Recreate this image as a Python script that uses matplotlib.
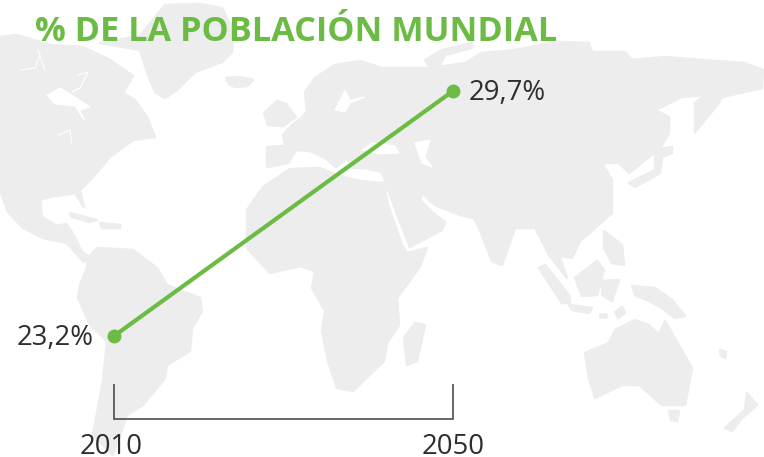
import matplotlib
matplotlib.use("Agg")
import matplotlib.pyplot as plt
from matplotlib.patches import Polygon

W, H = 764, 457
GREEN = "#6cbb45"
LAND = "#ededed"
DARK = "#2e2e2e"

# Chart data
years = [2010, 2050]
shares = [23.2, 29.7]
share_labels = ["23,2%", "29,7%"]
year_labels = ["2010", "2050"]
title = "% DE LA POBLACIÓN MUNDIAL"

# Background map outlines (decoration, in image pixels)
north_america = [(0,37),(17,35),(50,45),(83,47),(110,60),(133,76),(123,93),(135,100),(147,117),(155,137),(133,140),(110,157),(93,177),(80,190),(84,207),(75,193),(50,197),(40,200),(42,217),(57,226),(66,224),(72,232),(76,240),(82,252),(88,256),(84,262),(67,243),(43,238),(23,228),(8,212),(0,190)]
greenland = [(100,43),(140,36),(165,5),(200,4),(222,8),(233,30),(232,52),(222,62),(195,72),(177,90),(165,98),(155,92),(148,75),(140,50)]
iceland = [(226,78),(240,77),(253,80),(247,86),(235,87),(229,84)]
britain = [(264,113),(277,101),(286,104),(296,117),(283,126),(268,125)]
eurasia = [(267,147),(285,146),(283,135),(292,125),(300,119),(307,112),(305,92),(315,78),(335,65),(360,61),(382,68),(425,68),(445,66),(465,63),(482,53),(515,50),(555,42),(589,43),(592,52),(625,52),(632,60),(665,57),(702,60),(745,63),(763,70),(762,88),(722,97),(719,103),(695,132),(695,103),(705,95),(682,97),(655,110),(669,117),(669,133),(659,150),(649,157),(629,173),(619,163),(602,163),(612,180),(612,213),(602,222),(580,241),(572,258),(562,256),(556,246),(567,278),(549,255),(539,235),(535,228),(515,228),(502,265),(492,261),(479,228),(474,218),(460,215),(435,205),(422,193),(420,200),(432,212),(445,222),(442,230),(410,247),(400,222),(392,200),(386,184),(382,172),(365,168),(353,168),(347,158),(336,167),(325,158),(310,151),(296,150),(288,163),(267,167)]
novaya = [(425,60),(442,50),(472,43),(472,48),(445,55),(440,65),(428,65)]
africa = [(247,210),(263,187),(290,169),(320,168),(340,176),(360,181),(384,183),(388,205),(402,245),(407,253),(427,248),(419,268),(397,298),(399,325),(387,343),(384,361),(353,391),(337,388),(328,361),(322,331),(325,311),(312,288),(315,271),(300,266),(270,273),(247,248)]
madagascar = [(415,323),(425,325),(417,361),(407,365),(404,338)]
south_america = [(97,248),(133,250),(157,268),(167,285),(200,298),(202,311),(192,328),(190,351),(167,365),(165,378),(143,405),(127,415),(120,435),(113,455),(93,435),(103,381),(107,341),(90,325),(78,298),(80,285),(87,268),(88,258)]
australia = [(585,353),(609,343),(615,330),(635,320),(649,325),(659,335),(665,321),(692,368),(685,405),(662,405),(639,385),(622,385),(595,398),(589,378)]
tasmania = [(669,411),(679,411),(677,421),(671,420)]
new_zealand = [(747,393),(757,405),(742,418),(732,431),(725,428),(745,410)]
new_guinea = [(632,286),(655,288),(672,300),(685,316),(675,318),(662,308),(649,301),(635,295)]
borneo = [(575,278),(597,261),(604,270),(597,295),(582,296)]
sumatra = [(539,268),(545,265),(569,295),(570,303),(562,303)]
java = [(569,305),(592,308),(589,313),(572,310)]
sulawesi = [(602,281),(619,280),(612,301),(602,295)]
philippines = [(604,231),(622,245),(624,265),(612,263),(604,248)]
timor = [(615,312),(622,307),(625,313),(618,318)]
flores = [(600,314),(606,314),(606,317),(600,317)]
japan = [(629,183),(655,170),(655,150),(672,147),(672,153),(662,157),(660,173),(635,187)]
cuba = [(70,213),(97,220),(90,222),(72,217)]
hispaniola = [(100,223),(120,225),(120,228),(102,228)]
new_caledonia = [(720,350),(726,352),(725,358),(721,356)]
land_shapes = [north_america, greenland, iceland, britain, eurasia, novaya, africa, madagascar,
               south_america, australia, tasmania, new_zealand, new_guinea, borneo, sumatra,
               java, sulawesi, philippines, timor, flores, japan, cuba, hispaniola, new_caledonia]

hudson = [(47,95),(60,88),(75,97),(90,107),(80,110),(84,120),(75,106),(55,104)]
black_sea = [(362,150),(372,143),(395,146),(399,153),(380,154)]
caspian = [(415,143),(430,140),(425,157),(432,167),(422,163)]
baltic = [(335,110),(345,90),(350,100),(365,97),(350,103),(345,112)]
water_shapes = [hudson, black_sea, caspian, baltic]

channel_a = [(20,70),(35,68),(40,55)]
channel_b = [(38,50),(45,70)]
channel_c = [(78,75),(88,72),(80,88),(72,92)]
channel_d = [(58,135),(70,130),(72,145)]
water_lines = [channel_a, channel_b, channel_c, channel_d]

fig = plt.figure(figsize=(W / 100, H / 100), dpi=100, facecolor="white")

# Map layer
bg = fig.add_axes([0, 0, 1, 1])
bg.set_xlim(0, W)
bg.set_ylim(H, 0)
bg.axis("off")
for pts in land_shapes:
    bg.add_patch(Polygon(pts, closed=True, fc=LAND, ec=LAND, lw=1.8, joinstyle="round"))
for pts in water_shapes:
    bg.add_patch(Polygon(pts, closed=True, fc="white", ec="white", lw=0.8, joinstyle="round"))
for pts in water_lines:
    bg.plot([p[0] for p in pts], [p[1] for p in pts], color="white", lw=0.8)

# Data layer: axes box spans exactly the two points
x0, x1, ytop, ybot = 114, 453, 91, 336
ax = fig.add_axes([x0 / W, 1 - ybot / H, (x1 - x0) / W, (ybot - ytop) / H])
ax.patch.set_alpha(0)
ax.axis("off")
ax.set_xlim(years[0], years[1])
ax.set_ylim(shares[0], shares[1])

ax.plot(years, shares, color=GREEN, lw=3.0, solid_capstyle="butt", clip_on=False, zorder=3)
ax.plot(years, shares, "o", color=GREEN, ms=10, mew=0, clip_on=False, zorder=4)

# Bracket under the line, in x-data / axes-fraction coordinates
box_h = ybot - ytop
frac = lambda py: (ybot - py) / box_h
ax.plot([years[0], years[0], years[1], years[1]],
        [frac(384), frac(419), frac(419), frac(384)],
        transform=ax.get_xaxis_transform(), color="#4d4d4d", lw=1.2, clip_on=False,
        solid_joinstyle="miter", solid_capstyle="butt", zorder=2)

label_font = dict(family="Open Sans", fontsize=19.8, color=DARK)
ax.annotate(share_labels[0], (years[0], shares[0]), xytext=(-20, -2), textcoords="offset pixels",
            ha="right", va="center", annotation_clip=False, **label_font)
ax.annotate(share_labels[1], (years[1], shares[1]), xytext=(15.5, -2), textcoords="offset pixels",
            ha="left", va="center", annotation_clip=False, **label_font)
for yr, lab, dx in zip(years, year_labels, (-3, 0)):
    ax.annotate(lab, (yr, frac(454)), xycoords=ax.get_xaxis_transform(), xytext=(dx, 0),
                textcoords="offset pixels", ha="center", va="baseline",
                annotation_clip=False, **label_font)

fig.text(35 / W, 1 - 41 / H, title, family="Open Sans", fontweight="bold", fontsize=24.7,
         color=GREEN, ha="left", va="baseline")

fig.savefig("out.png", dpi=100)
